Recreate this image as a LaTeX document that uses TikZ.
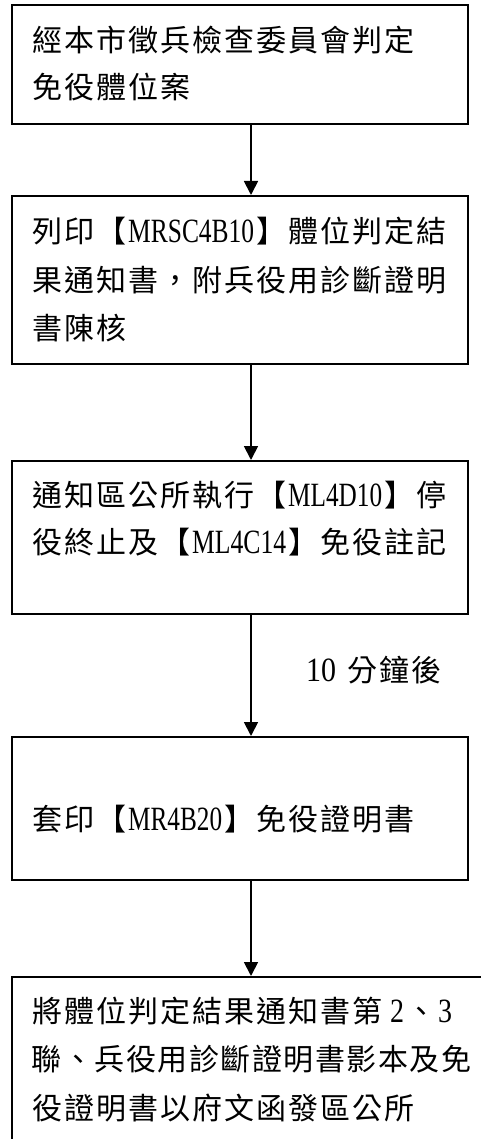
\documentclass[tikz,border=0pt]{standalone}
\usepackage{fontspec}
\usepackage{graphicx}
\usetikzlibrary{arrows.meta}
\newfontfamily\cjkfont{Noto Sans CJK TC}
\newfontfamily\latfont{Liberation Serif}
\newlength\cellw \setlength\cellw{32pt}
\newlength\halfw \setlength\halfw{16pt}
\def\rowend{\rowend}
\newcommand\cjkrow[1]{\cjkloop#1\rowend}
\def\cjkloop#1{\ifx#1\rowend\else\makebox[\cellw][c]{#1}\expandafter\cjkloop\fi}
\newcommand\latrow[2]{\makebox[#1\halfw][c]{\resizebox{\dimexpr#1\halfw-2pt\relax}{\height}{\latfont\fontsize{34}{34}\selectfont #2}}}
\tikzset{
  boxnode/.style={draw=black, line width=1.8pt, rectangle, inner sep=0pt, fill=none},
  txt/.style={anchor=base west, inner sep=0pt, font=\cjkfont\fontsize{30}{48}\selectfont},
  arr/.style={line width=1.8pt, -{Triangle[length=14pt,width=14pt]}}
}
\begin{document}
\begin{tikzpicture}[x=1pt,y=-1pt]
\useasboundingbox (0,0) rectangle (481,1139);
\fill[white] (0,0) rectangle (481,1139);
\clip (0,0) rectangle (481,1139);
\coordinate (ax) at (251,0);
% boxes
\node[boxnode, minimum width=456pt, minimum height=119pt, anchor=north west] (b1) at (11,4) {};
\node[boxnode, minimum width=456pt, minimum height=168pt, anchor=north west] (b2) at (11,195) {};
\node[boxnode, minimum width=456pt, minimum height=153pt, anchor=north west] (b3) at (11,460) {};
\node[boxnode, minimum width=456pt, minimum height=143pt, anchor=north west] (b4) at (11,736) {};
\node[boxnode, minimum width=490pt, minimum height=220pt, anchor=north west] (b5) at (11,976) {};
% texts
\node[txt] (t1a) at (31,51.4) {\cjkrow{經本市徵兵檢查委員會判定}};
\node[txt] (t1b) at (31,98.4) {\cjkrow{免役體位案}};
\node[txt] (t2a) at (31,242.4) {\cjkrow{列印【}\latrow{8}{MRSC4B10}\cjkrow{】體位判定結}};
\node[txt] (t2b) at (31,291.4) {\cjkrow{果通知書，附兵役用診斷證明}};
\node[txt] (t2c) at (31,339.4) {\cjkrow{書陳核}};
\node[txt] (t3a) at (31,506.4) {\cjkrow{通知區公所執行【}\latrow{6}{ML4D10}\cjkrow{】停}};
\node[txt] (t3b) at (31,553.4) {\cjkrow{役終止及【}\latrow{6}{ML4C14}\cjkrow{】免役註記}};
\node[txt] (t4) at (31,830.4) {\cjkrow{套印【}\latrow{6}{MR4B20}\cjkrow{】免役證明書}};
\node[txt] (t5a) at (31,1022.4) {\cjkrow{將體位判定結果通知書第}\hspace{6pt}\latrow{1}{2}\cjkrow{、}\latrow{1}{3}};
\node[txt] (t5b) at (31,1070.4) {\setlength\cellw{31.5pt}\cjkrow{聯、兵役用診斷證明書影本及免}};
\node[txt] (t5c) at (31,1119.4) {\cjkrow{役證明書以府文函發區公所}};
% label
\node[txt] (lab) at (305,681.4) {\latrow{2}{10}\hspace{9pt}\cjkrow{分鐘後}};
% arrows
\draw[arr] (b1.south -| ax) -- (b2.north -| ax);
\draw[arr] (b2.south -| ax) -- (b3.north -| ax);
\draw[arr] (b3.south -| ax) -- (b4.north -| ax);
\draw[arr] (b4.south -| ax) -- (b5.north -| ax);
\end{tikzpicture}
\end{document}
